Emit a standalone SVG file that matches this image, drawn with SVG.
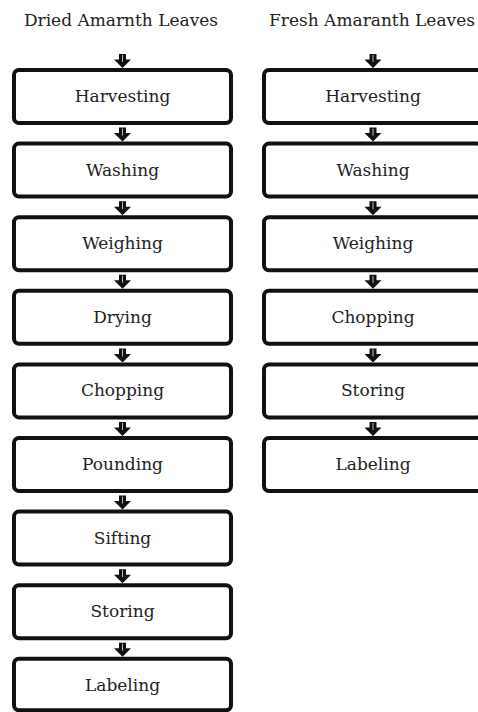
<svg xmlns="http://www.w3.org/2000/svg" width="478" height="712" viewBox="0 0 478 712">
<style>
.box{fill:#fff;stroke:#111;stroke-width:4}
.t{font-family:"DejaVu Serif","Liberation Serif",serif;font-size:17px;fill:#222;text-anchor:middle}
.h{font-family:"DejaVu Serif","Liberation Serif",serif;font-size:17px;fill:#222;text-anchor:middle}
.ar{fill:#111}
.sl{stroke:#bbb;stroke-width:1}
</style>
<defs>
<g id="arw"><polygon class="ar" points="-3.5,-14 3.5,-14 3.5,-8.5 8.5,-8.5 0,0 -8.5,-8.5 -3.5,-8.5"/><line class="sl" x1="0" y1="-13" x2="0" y2="-6"/></g>
</defs>
<rect width="478" height="712" fill="#fff"/>
<text class="h" x="121" y="26">Dried Amarnth Leaves</text>
<text class="h" x="372" y="26">Fresh Amaranth Leaves</text>
<g id="connectors">
<use href="#arw" x="122.5" y="68"/>
<use href="#arw" x="122.5" y="141.6"/>
<use href="#arw" x="122.5" y="215.2"/>
<use href="#arw" x="122.5" y="288.8"/>
<use href="#arw" x="122.5" y="362.4"/>
<use href="#arw" x="122.5" y="436"/>
<use href="#arw" x="122.5" y="509.6"/>
<use href="#arw" x="122.5" y="583.2"/>
<use href="#arw" x="122.5" y="656.8"/>
<use href="#arw" x="373" y="68"/>
<use href="#arw" x="373" y="141.6"/>
<use href="#arw" x="373" y="215.2"/>
<use href="#arw" x="373" y="288.8"/>
<use href="#arw" x="373" y="362.4"/>
<use href="#arw" x="373" y="436"/>
</g>
<g id="d-harvesting"><rect class="box" x="14" y="70" width="217" height="53" rx="5"/><text class="t" x="122.5" y="102">Harvesting</text></g>
<g id="d-washing"><rect class="box" x="14" y="143.6" width="217" height="53" rx="5"/><text class="t" x="122.5" y="175.6">Washing</text></g>
<g id="d-weighing"><rect class="box" x="14" y="217.2" width="217" height="53" rx="5"/><text class="t" x="122.5" y="249.2">Weighing</text></g>
<g id="d-drying"><rect class="box" x="14" y="290.8" width="217" height="53" rx="5"/><text class="t" x="122.5" y="322.8">Drying</text></g>
<g id="d-chopping"><rect class="box" x="14" y="364.4" width="217" height="53" rx="5"/><text class="t" x="122.5" y="396.4">Chopping</text></g>
<g id="d-pounding"><rect class="box" x="14" y="438" width="217" height="53" rx="5"/><text class="t" x="122.5" y="470">Pounding</text></g>
<g id="d-sifting"><rect class="box" x="14" y="511.6" width="217" height="53" rx="5"/><text class="t" x="122.5" y="543.6">Sifting</text></g>
<g id="d-storing"><rect class="box" x="14" y="585.2" width="217" height="53" rx="5"/><text class="t" x="122.5" y="617.2">Storing</text></g>
<g id="d-labeling"><rect class="box" x="14" y="658.8" width="217" height="51.5" rx="5"/><text class="t" x="122.5" y="690.8">Labeling</text></g>
<g id="f-harvesting"><rect class="box" x="264" y="70" width="218" height="53" rx="5"/><text class="t" x="373" y="102">Harvesting</text></g>
<g id="f-washing"><rect class="box" x="264" y="143.6" width="218" height="53" rx="5"/><text class="t" x="373" y="175.6">Washing</text></g>
<g id="f-weighing"><rect class="box" x="264" y="217.2" width="218" height="53" rx="5"/><text class="t" x="373" y="249.2">Weighing</text></g>
<g id="f-chopping"><rect class="box" x="264" y="290.8" width="218" height="53" rx="5"/><text class="t" x="373" y="322.8">Chopping</text></g>
<g id="f-storing"><rect class="box" x="264" y="364.4" width="218" height="53" rx="5"/><text class="t" x="373" y="396.4">Storing</text></g>
<g id="f-labeling"><rect class="box" x="264" y="438" width="218" height="53" rx="5"/><text class="t" x="373" y="470">Labeling</text></g>
</svg>
